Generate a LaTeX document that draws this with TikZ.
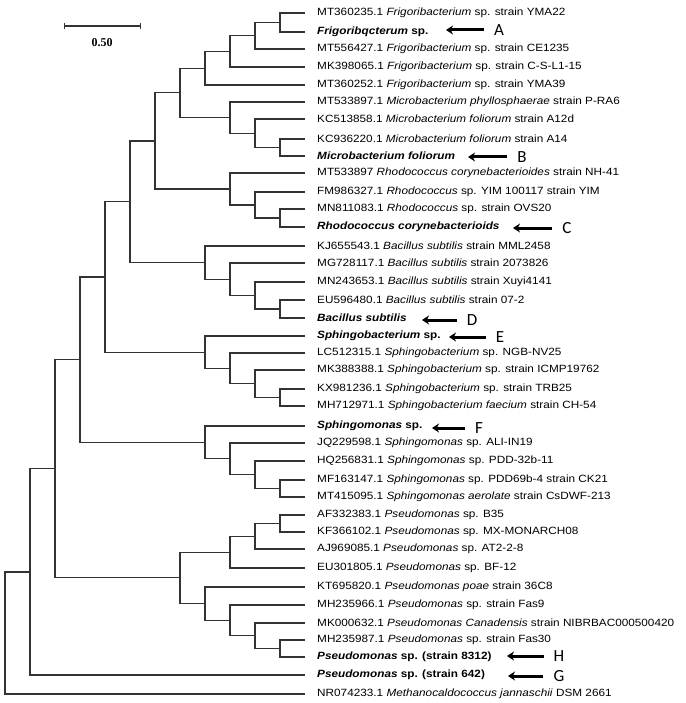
\documentclass[tikz,border=0pt]{standalone}
\usepackage{fontspec}
\setmainfont{Liberation Sans}
\newfontfamily\leaffont[FakeStretch=1.12]{Liberation Sans}
\newfontfamily\tagfont{Carlito}
\newfontfamily\barfont{Liberation Serif}
\usepackage{tikz}
\usetikzlibrary{arrows.meta}
\tikzstyle{branch} = [draw=black!80, line width=1.1pt]
\tikzstyle{leaf} = [anchor=west, inner xsep=12pt, inner ysep=0pt, font={\leaffont\fontsize{10.5}{12}\selectfont}]
\tikzstyle{tag} = [inner sep=0pt, font={\tagfont\fontsize{17}{20}\selectfont}]
\tikzstyle{pointer} = [line width=3pt, -{Stealth[length=7pt,width=9pt]}, shorten <=10pt]

\begin{document}
\begin{tikzpicture}[x=1pt,y=-1pt]
    \useasboundingbox (0,0) rectangle (685,703);
    % scale bar
    \coordinate (sb0) at (64,26);
    \coordinate (sb1) at (141,26);
    \draw[branch,{Bar[width=6pt]}-{Bar[width=6pt]}] (sb0)--(sb1);
    \node[font={\barfont\bfseries\fontsize{12}{14}\selectfont}](sbl) at (102,43){0.50};
    % leaves
    \node[leaf](l1) at (305,13){MT360235.1 \textit{Frigoribacterium} sp. strain YMA22};
    \node[leaf](l2) at (305,32){\textbf{\textit{Frigoribqcterum} sp.}};
    \node[leaf](l3) at (305,49){MT556427.1 \textit{Frigoribacterium} sp. strain CE1235};
    \node[leaf](l4) at (305,67){MK398065.1 \textit{Frigoribacterium} sp. strain C-S-L1-15};
    \node[leaf](l5) at (305,85){MT360252.1 \textit{Frigoribacterium} sp. strain YMA39};
    \node[leaf](l6) at (305,102){MT533897.1 \textit{Microbacterium phyllosphaerae} strain P-RA6};
    \node[leaf](l7) at (305,119){KC513858.1 \textit{Microbacterium foliorum} strain A12d};
    \node[leaf](l8) at (305,139){KC936220.1 \textit{Microbacterium foliorum} strain A14};
    \node[leaf](l9) at (305,156){\textbf{\textit{Microbacterium foliorum}}};
    \node[leaf](l10) at (305,173){MT533897 \textit{Rhodococcus corynebacterioides} strain NH-41};
    \node[leaf](l11) at (305,192){FM986327.1 \textit{Rhodococcus} sp. YIM 100117 strain YIM};
    \node[leaf](l12) at (305,209){MN811083.1 \textit{Rhodococcus} sp. strain OVS20};
    \node[leaf](l13) at (305,227){\textbf{\textit{Rhodococcus corynebacterioids}}};
    \node[leaf](l14) at (305,246){KJ655543.1 \textit{Bacillus subtilis} strain MML2458};
    \node[leaf](l15) at (305,263){MG728117.1 \textit{Bacillus subtilis} strain 2073826};
    \node[leaf](l16) at (305,282){MN243653.1 \textit{Bacillus subtilis} strain Xuyi4141};
    \node[leaf](l17) at (305,300){EU596480.1 \textit{Bacillus subtilis} strain 07-2};
    \node[leaf](l18) at (305,318){\textbf{\textit{Bacillus subtilis}}};
    \node[leaf](l19) at (305,336){\textbf{\textit{Sphingobacterium} sp.}};
    \node[leaf](l20) at (305,353){LC512315.1 \textit{Sphingobacterium} sp. NGB-NV25};
    \node[leaf](l21) at (305,370){MK388388.1 \textit{Sphingobacterium} sp. strain ICMP19762};
    \node[leaf](l22) at (305,389){KX981236.1 \textit{Sphingobacterium} sp. strain TRB25};
    \node[leaf](l23) at (305,406){MH712971.1 \textit{Sphingobacterium faecium} strain CH-54};
    \node[leaf](l24) at (305,426){\textbf{\textit{Sphingomonas} sp.}};
    \node[leaf](l25) at (305,443){JQ229598.1 \textit{Sphingomonas} sp. ALI-IN19};
    \node[leaf](l26) at (305,461){HQ256831.1 \textit{Sphingomonas} sp. PDD-32b-11};
    \node[leaf](l27) at (305,480){MF163147.1 \textit{Sphingomonas} sp. PDD69b-4 strain CK21};
    \node[leaf](l28) at (305,497){MT415095.1 \textit{Sphingomonas aerolate} strain CsDWF-213};
    \node[leaf](l29) at (305,515){AF332383.1 \textit{Pseudomonas} sp. B35};
    \node[leaf](l30) at (305,532){KF366102.1 \textit{Pseudomonas} sp. MX-MONARCH08};
    \node[leaf](l31) at (305,549){AJ969085.1 \textit{Pseudomonas} sp. AT2-2-8};
    \node[leaf](l32) at (305,568){EU301805.1 \textit{Pseudomonas} sp. BF-12};
    \node[leaf](l33) at (305,587){KT695820.1 \textit{Pseudomonas poae} strain 36C8};
    \node[leaf](l34) at (305,605){MH235966.1 \textit{Pseudomonas} sp. strain Fas9};
    \node[leaf](l35) at (305,623){MK000632.1 \textit{Pseudomonas Canadensis} strain NIBRBAC000500420};
    \node[leaf](l36) at (305,640){MH235987.1 \textit{Pseudomonas} sp. strain Fas30};
    \node[leaf](l37) at (305,657){\textbf{\textit{Pseudomonas} sp. (strain 8312)}};
    \node[leaf](l38) at (305,675){\textbf{\textit{Pseudomonas} sp. (strain 642)}};
    \node[leaf](l39) at (305,694){NR074233.1 \textit{Methanocaldococcus jannaschii} DSM 2661};
    % inner nodes
    \coordinate (f1) at (280,22.5);
    \coordinate (f2) at (255,35.75);
    \coordinate (f3) at (230,51.4);
    \coordinate (f4) at (205,68.2);
    \coordinate (m1) at (280,147.5);
    \coordinate (m2) at (255,133.25);
    \coordinate (m3) at (230,117.6);
    \coordinate (fm) at (180,92.9);
    \coordinate (r1) at (280,218);
    \coordinate (r2) at (255,205);
    \coordinate (r3) at (230,189);
    \coordinate (fr) at (155,141);
    \coordinate (b1) at (280,309);
    \coordinate (b2) at (255,295.5);
    \coordinate (b3) at (230,279.2);
    \coordinate (b4) at (205,262.6);
    \coordinate (frb) at (130,201.8);
    \coordinate (s1) at (280,397.5);
    \coordinate (s2) at (255,383.75);
    \coordinate (s3) at (230,368.4);
    \coordinate (s4) at (205,352.2);
    \coordinate (c5) at (105,277);
    \coordinate (p1) at (280,488.5);
    \coordinate (p2) at (255,474.75);
    \coordinate (p3) at (230,458.9);
    \coordinate (p4) at (205,442.4);
    \coordinate (c6) at (80,359.7);
    \coordinate (q1) at (280,523.5);
    \coordinate (q2) at (255,536.25);
    \coordinate (q3) at (230,552.1);
    \coordinate (k1) at (280,648.5);
    \coordinate (k2) at (255,635.75);
    \coordinate (k3) at (230,620.4);
    \coordinate (k4) at (205,603.7);
    \coordinate (qk) at (180,577.9);
    \coordinate (c7) at (55,468.8);
    \coordinate (c8) at (30,572);
    \coordinate (root) at (5,633);
    % branches
    \draw[branch] (l1) -| (f1) |- (l2);
    \draw[branch] (f1) -| (f2) |- (l3);
    \draw[branch] (f2) -| (f3) |- (l4);
    \draw[branch] (f3) -| (f4) |- (l5);
    \draw[branch] (l8) -| (m1) |- (l9);
    \draw[branch] (l7) -| (m2) |- (m1);
    \draw[branch] (l6) -| (m3) |- (m2);
    \draw[branch] (f4) -| (fm) |- (m3);
    \draw[branch] (l12) -| (r1) |- (l13);
    \draw[branch] (l11) -| (r2) |- (r1);
    \draw[branch] (l10) -| (r3) |- (r2);
    \draw[branch] (fm) -| (fr) |- (r3);
    \draw[branch] (l17) -| (b1) |- (l18);
    \draw[branch] (l16) -| (b2) |- (b1);
    \draw[branch] (l15) -| (b3) |- (b2);
    \draw[branch] (l14) -| (b4) |- (b3);
    \draw[branch] (fr) -| (frb) |- (b4);
    \draw[branch] (l22) -| (s1) |- (l23);
    \draw[branch] (l21) -| (s2) |- (s1);
    \draw[branch] (l20) -| (s3) |- (s2);
    \draw[branch] (l19) -| (s4) |- (s3);
    \draw[branch] (frb) -| (c5) |- (s4);
    \draw[branch] (l27) -| (p1) |- (l28);
    \draw[branch] (l26) -| (p2) |- (p1);
    \draw[branch] (l25) -| (p3) |- (p2);
    \draw[branch] (l24) -| (p4) |- (p3);
    \draw[branch] (c5) -| (c6) |- (p4);
    \draw[branch] (l29) -| (q1) |- (l30);
    \draw[branch] (q1) -| (q2) |- (l31);
    \draw[branch] (q2) -| (q3) |- (l32);
    \draw[branch] (l36) -| (k1) |- (l37);
    \draw[branch] (l35) -| (k2) |- (k1);
    \draw[branch] (l34) -| (k3) |- (k2);
    \draw[branch] (l33) -| (k4) |- (k3);
    \draw[branch] (q3) -| (qk) |- (k4);
    \draw[branch] (c6) -| (c7) |- (qk);
    \draw[branch] (c7) -| (c8) |- (l38);
    \draw[branch] (c8) -| (root) |- (l39);
    % tags
    \node[tag](A) at (499,30){A};
    \node[tag](B) at (522,157){B};
    \node[tag](C) at (567,228){C};
    \node[tag](D) at (472,320){D};
    \node[tag](E) at (500,337){E};
    \node[tag](F) at (479,428){F};
    \node[tag](H) at (559,656){H};
    \node[tag](G) at (559,676){G};
    \coordinate (tA) at (446,30);
    \coordinate (tB) at (468,157);
    \coordinate (tC) at (513,228);
    \coordinate (tD) at (422,320);
    \coordinate (tE) at (449,337);
    \coordinate (tF) at (432,428);
    \coordinate (tH) at (507,656);
    \coordinate (tG) at (508,676);
    \draw[pointer](A)--(tA);
    \draw[pointer](B)--(tB);
    \draw[pointer](C)--(tC);
    \draw[pointer](D)--(tD);
    \draw[pointer](E)--(tE);
    \draw[pointer](F)--(tF);
    \draw[pointer](H)--(tH);
    \draw[pointer](G)--(tG);
  \end{tikzpicture}
\end{document}
